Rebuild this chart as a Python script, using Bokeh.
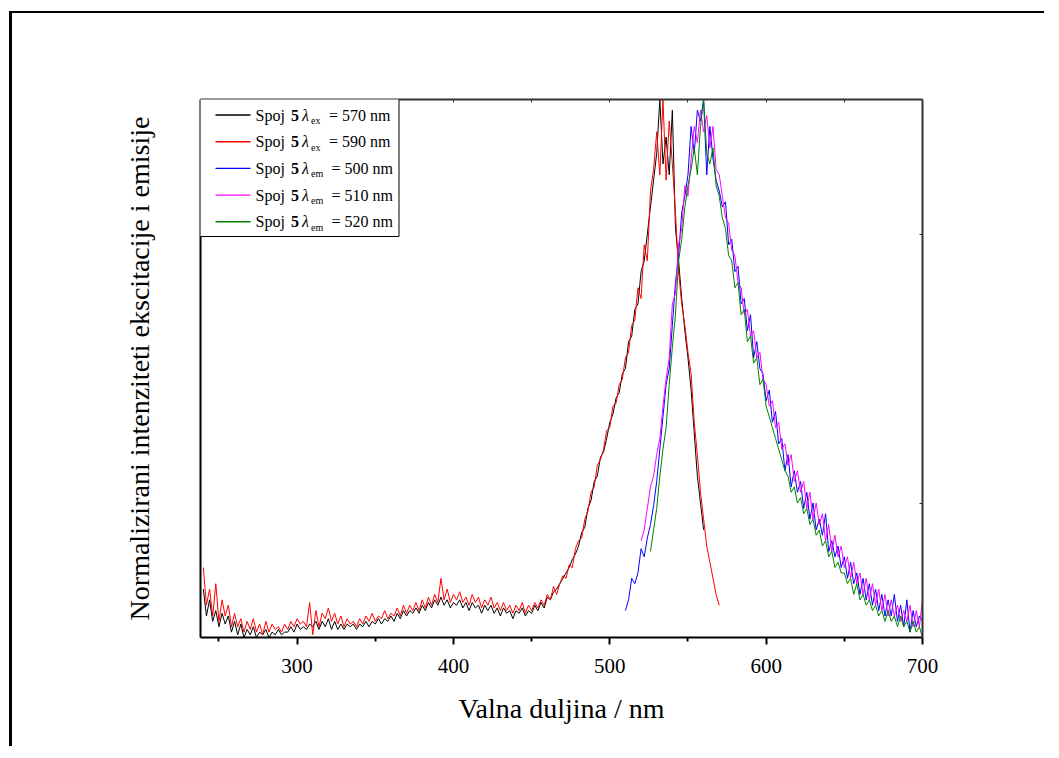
from bokeh.plotting import figure
from bokeh.models import (Range1d, LinearAxis, FixedTicker, Label, BoxAnnotation,
                          CustomLabelingPolicy)
from bokeh.embed import file_html
from bokeh.resources import INLINE

# ---------------- data ----------------
ex_nm_black = list(range(240, 562, 2))
ex_nm_red = list(range(240, 572, 2))
em_nm_blue = list(range(510, 702, 2))
em_nm_magenta = list(range(520, 702, 2))
em_nm_green = list(range(526, 702, 2))

ex_570_black = [
    0.09, 0.04, 0.07, 0.03, 0.05, 0.02, 0.045, 0.025, 0.04, 0.01, 0.03, 0.005, 0.025, 0.0, 0.015,
    0.005, 0.02, 0.0, 0.01, 0.005, 0.015, 0.0, 0.01, 0.005, 0.015, 0.005, 0.01, 0.01, 0.02, 0.01,
    0.025, 0.015, 0.02, 0.015, 0.025, 0.02, 0.03, 0.015, 0.03, 0.02, 0.035, 0.015, 0.03, 0.015, 0.025,
    0.015, 0.025, 0.02, 0.025, 0.015, 0.025, 0.02, 0.03, 0.02, 0.03, 0.025, 0.035, 0.025, 0.035, 0.03,
    0.04, 0.03, 0.045, 0.035, 0.05, 0.04, 0.05, 0.045, 0.055, 0.045, 0.06, 0.05, 0.065, 0.055, 0.07,
    0.06, 0.075, 0.06, 0.07, 0.055, 0.065, 0.06, 0.07, 0.055, 0.065, 0.05, 0.065, 0.055, 0.06, 0.045,
    0.06, 0.05, 0.06, 0.045, 0.055, 0.04, 0.055, 0.045, 0.05, 0.035, 0.05, 0.045, 0.055, 0.04, 0.05,
    0.045, 0.06, 0.05, 0.065, 0.055, 0.075, 0.07, 0.085, 0.09, 0.10, 0.11, 0.12, 0.13, 0.145, 0.155,
    0.17, 0.195, 0.205, 0.24, 0.255, 0.29, 0.30, 0.335, 0.345, 0.37, 0.40, 0.415, 0.445, 0.455, 0.49,
    0.50, 0.55, 0.56, 0.61, 0.62, 0.68, 0.70, 0.75, 0.80, 0.85, 0.90, 1.0, 0.88, 0.93, 0.86,
    0.98, 0.76, 0.70, 0.63, 0.57, 0.52, 0.46, 0.38, 0.30, 0.25, 0.20,
]

ex_590_red = [
    0.13, 0.06, 0.09, 0.04, 0.10, 0.03, 0.07, 0.04, 0.06, 0.02, 0.045, 0.02, 0.035, 0.01, 0.03,
    0.015, 0.035, 0.01, 0.025, 0.005, 0.03, 0.01, 0.025, 0.015, 0.02, 0.01, 0.025, 0.015, 0.03, 0.02,
    0.035, 0.025, 0.03, 0.02, 0.065, 0.005, 0.05, 0.02, 0.045, 0.035, 0.055, 0.03, 0.045, 0.025, 0.04,
    0.02, 0.035, 0.025, 0.03, 0.02, 0.035, 0.025, 0.04, 0.03, 0.045, 0.03, 0.04, 0.035, 0.05, 0.035,
    0.045, 0.04, 0.055, 0.04, 0.06, 0.045, 0.06, 0.05, 0.065, 0.05, 0.07, 0.055, 0.075, 0.06, 0.08,
    0.065, 0.11, 0.07, 0.09, 0.065, 0.08, 0.07, 0.085, 0.065, 0.075, 0.06, 0.08, 0.065, 0.075, 0.055,
    0.07, 0.06, 0.075, 0.055, 0.065, 0.05, 0.065, 0.05, 0.06, 0.045, 0.06, 0.05, 0.065, 0.045, 0.06,
    0.05, 0.065, 0.055, 0.07, 0.06, 0.08, 0.07, 0.095, 0.08, 0.10, 0.115, 0.11, 0.135, 0.13, 0.165,
    0.18, 0.185, 0.22, 0.235, 0.27, 0.28, 0.32, 0.33, 0.35, 0.385, 0.39, 0.43, 0.435, 0.47, 0.48,
    0.52, 0.53, 0.58, 0.59, 0.65, 0.63, 0.73, 0.70, 0.83, 0.87, 0.94, 0.86, 1.0, 0.85, 0.96,
    0.88, 0.79, 0.68, 0.62, 0.58, 0.53, 0.49, 0.40, 0.34, 0.27, 0.22, 0.17, 0.14, 0.11, 0.08, 0.06,
]

em_500_blue = [
    0.05, 0.07, 0.11, 0.10, 0.12, 0.165, 0.15, 0.185, 0.21, 0.245, 0.29, 0.35, 0.41, 0.47, 0.50,
    0.58, 0.66, 0.71, 0.79, 0.82,
    0.86, 0.95, 0.90, 0.98, 0.96, 1.0, 0.86, 0.95, 0.89, 0.85, 0.83, 0.80, 0.81, 0.73, 0.74,
    0.68, 0.69, 0.62, 0.63, 0.57, 0.60, 0.52, 0.55, 0.50, 0.49,
    0.44, 0.46, 0.40, 0.42, 0.36, 0.37, 0.31, 0.34, 0.28, 0.31, 0.27, 0.29, 0.24, 0.27, 0.22,
    0.25, 0.20, 0.22, 0.19, 0.23, 0.16, 0.18, 0.15, 0.17, 0.13,
    0.15, 0.11, 0.14, 0.10, 0.12, 0.08, 0.11, 0.07, 0.10, 0.06, 0.09, 0.05, 0.08, 0.04, 0.07,
    0.04, 0.08, 0.03, 0.06, 0.02, 0.07, 0.01, 0.05, 0.02, 0.04, 0.03,
]

em_510_magenta = [
    0.18, 0.20, 0.24, 0.28, 0.30, 0.34, 0.37, 0.43, 0.48, 0.52, 0.62, 0.64, 0.73, 0.76, 0.84,
    0.82, 0.89, 0.95, 0.92, 0.98, 0.94, 0.97, 0.91, 0.95, 0.87, 0.86, 0.82, 0.78, 0.77, 0.72,
    0.71, 0.66, 0.65, 0.60, 0.61, 0.56, 0.57, 0.52, 0.53, 0.48,
    0.47, 0.43, 0.44, 0.39, 0.40, 0.35, 0.36, 0.32, 0.34, 0.29, 0.31, 0.27, 0.29, 0.24, 0.27,
    0.22, 0.25, 0.21, 0.23, 0.18, 0.21, 0.16, 0.19, 0.15, 0.17,
    0.13, 0.15, 0.11, 0.14, 0.10, 0.12, 0.08, 0.11, 0.07, 0.10, 0.06, 0.09, 0.05, 0.08, 0.04,
    0.07, 0.04, 0.06, 0.03, 0.05, 0.03, 0.06, 0.02, 0.05, 0.02, 0.07,
]

em_520_green = [
    0.16, 0.20, 0.24, 0.30, 0.35, 0.39, 0.47, 0.54, 0.60, 0.70, 0.74, 0.80,
    0.84, 0.87, 0.91, 0.86, 0.95, 1.0, 0.90, 0.88, 0.91, 0.84, 0.82, 0.78, 0.76, 0.71, 0.70,
    0.65, 0.66, 0.60, 0.61, 0.55, 0.56, 0.51, 0.52, 0.47, 0.48,
    0.43, 0.41, 0.39, 0.37, 0.35, 0.33, 0.31, 0.30, 0.27, 0.28, 0.25, 0.26, 0.23, 0.24, 0.21,
    0.22, 0.19, 0.20, 0.17, 0.18, 0.15, 0.16, 0.13, 0.14, 0.12,
    0.12, 0.10, 0.11, 0.08, 0.10, 0.07, 0.08, 0.06, 0.07, 0.05, 0.06, 0.04, 0.05, 0.03, 0.05,
    0.03, 0.04, 0.02, 0.04, 0.02, 0.03, 0.01, 0.03, 0.01, 0.02, 0.0,
]

series_names = ["570 nm", "590 nm", "500 nm", "510 nm", "520 nm"]
series_kind = ["ex", "ex", "em", "em", "em"]
series_colors = ["#000000", "#ff0000", "#0000ff", "#ff00ff", "#008000"]

x_ticks = [300, 400, 500, 600, 700]
x_minor = [250, 350, 450, 550, 650]
x_top_ticks = [250, 300, 350, 400, 450, 500, 550, 600, 650, 700]
y_right_ticks = [0.25, 0.75]

# ---------------- figure ----------------
X0, X1 = 238.2, 700.0
Y0, Y1 = 0.0, 1.0
FONT = "Liberation Serif"

p = figure(width=1035, height=735, output_backend="svg", toolbar_location=None,
           x_range=Range1d(X0, X1), y_range=Range1d(Y0, Y1),
           x_axis_location=None, y_axis_location=None,
           min_border_left=188, min_border_right=125, min_border_top=86, min_border_bottom=111)
p.styles = {"box-shadow": "-3px -2px 0 0 #000", "margin-left": "12px", "margin-top": "13px"}
p.grid.visible = False
p.outline_line_color = None
p.background_fill_color = "white"
p.border_fill_color = "white"

HIDE_CODE = """
try { return indices.difference(indices) } catch (e) {}
try { for (const i of Array.from(indices)) { indices.unset(i) } return indices } catch (e) {}
return indices
"""


def hide_labels(axis):
    axis.major_label_policy = CustomLabelingPolicy(code=HIDE_CODE)
    axis.major_label_text_alpha = 0.0
    axis.major_label_text_font_size = "8px"
    axis.major_label_standoff = 0


bottom = LinearAxis(ticker=FixedTicker(ticks=x_ticks, minor_ticks=x_minor),
                    axis_label="Valna duljina / nm")
bottom.axis_line_width = 2
bottom.axis_line_color = "black"
bottom.major_tick_out = 7
bottom.major_tick_in = 0
bottom.minor_tick_out = 4
bottom.minor_tick_in = 0
bottom.major_tick_line_width = 2
bottom.minor_tick_line_width = 2
bottom.major_label_text_font = FONT
bottom.major_label_text_font_size = "21px"
bottom.major_label_text_color = "black"
bottom.major_label_standoff = 14
bottom.axis_label_text_font = FONT
bottom.axis_label_text_font_size = "28px"
bottom.axis_label_text_font_style = "normal"
bottom.axis_label_text_color = "black"
bottom.axis_label_standoff = 17
p.add_layout(bottom, "below")

left = LinearAxis(ticker=FixedTicker(ticks=[]), axis_label="Normalizirani intenziteti ekscitacije i emisije")
left.axis_line_width = 2
left.axis_line_color = "black"
left.major_tick_line_color = None
left.minor_tick_line_color = None
hide_labels(left)
left.axis_label_text_font = FONT
left.axis_label_text_font_size = "28px"
left.axis_label_text_font_style = "normal"
left.axis_label_text_color = "black"
left.axis_label_standoff = 46
p.add_layout(left, "left")

top = LinearAxis(ticker=FixedTicker(ticks=x_top_ticks, minor_ticks=[]))
top.axis_line_width = 2
top.axis_line_color = "#333333"
top.major_tick_in = 3
top.major_tick_out = 0
top.major_tick_line_color = "#333333"
top.minor_tick_line_color = None
hide_labels(top)
p.add_layout(top, "above")

right = LinearAxis(ticker=FixedTicker(ticks=y_right_ticks, minor_ticks=[]))
right.axis_line_width = 2
right.axis_line_color = "#333333"
right.major_tick_in = 3
right.major_tick_out = 0
right.major_tick_line_color = "#333333"
right.minor_tick_line_color = None
hide_labels(right)
p.add_layout(right, "right")

# ---------------- data lines ----------------
p.line(ex_nm_black, ex_570_black, line_color=series_colors[0], line_width=1)
p.line(ex_nm_red, ex_590_red, line_color=series_colors[1], line_width=1)
p.line(em_nm_blue, em_500_blue, line_color=series_colors[2], line_width=1)
p.line(em_nm_magenta, em_510_magenta, line_color=series_colors[3], line_width=1)
p.line(em_nm_green, em_520_green, line_color=series_colors[4], line_width=1)

# ---------------- legend (rich text built from pieces) ----------------
FRAME_W, FRAME_H = 722.0, 538.0   # frame size in px


def dx(px):   # px offset from frame left -> data x
    return X0 + px * (X1 - X0) / FRAME_W


def dy(py):   # px offset from frame top -> data y
    return Y1 - py * (Y1 - Y0) / FRAME_H


p.add_layout(BoxAnnotation(left=dx(-1.5), right=dx(198.5), top=dy(-3.5), bottom=dy(137),
                           fill_color="white", fill_alpha=1.0,
                           line_color="black", line_width=1, line_alpha=1.0))

for i, (name, kind, col) in enumerate(zip(series_names, series_kind, series_colors)):
    row = 15.5 + 26.7 * i           # row centre, px below frame top
    p.add_layout(BoxAnnotation(left=dx(15), right=dx(50), top=dy(row - 0.7), bottom=dy(row + 0.7),
                               fill_color=col, fill_alpha=1.0, line_color=None))
    common = dict(x_units="data", y_units="data", text_font=FONT, text_color="black",
                  text_baseline="alphabetic", text_align="left")
    base = row                      # rendered baseline sits ~6px below this value
    p.add_layout(Label(x=dx(55), y=dy(base), text="Spoj", text_font_size="16px", **common))
    p.add_layout(Label(x=dx(90.5), y=dy(base), text="5", text_font_size="16px",
                       text_font_style="bold", **common))
    p.add_layout(Label(x=dx(101.5), y=dy(base), text="λ", text_font_size="16px",
                       text_font_style="italic", **common))
    p.add_layout(Label(x=dx(110.5), y=dy(base + 5.5), text=kind, text_font_size="10px", **common))
    eq_x = 128.5 if kind == "ex" else 131
    p.add_layout(Label(x=dx(eq_x), y=dy(base), text="= " + name, text_font_size="16px", **common))

open("out.html", "w").write(file_html(p, INLINE))
